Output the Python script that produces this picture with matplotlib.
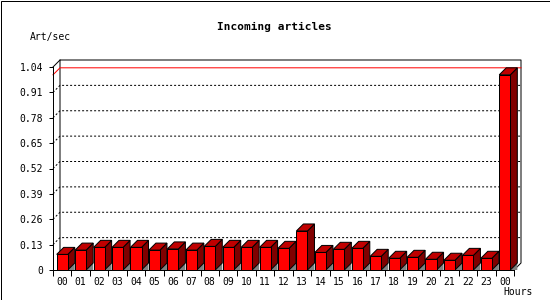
import matplotlib
matplotlib.use("Agg")
import matplotlib.pyplot as plt
from matplotlib.patches import Polygon, Rectangle

hours = ["00", "01", "02", "03", "04", "05", "06", "07", "08", "09", "10", "11",
         "12", "13", "14", "15", "16", "17", "18", "19", "20", "21", "22", "23", "00"]
rate = [0.080, 0.102, 0.116, 0.116, 0.116, 0.102, 0.108, 0.102, 0.121, 0.116,
        0.116, 0.116, 0.111, 0.200, 0.090, 0.106, 0.111, 0.070, 0.060, 0.065,
        0.055, 0.050, 0.075, 0.060, 1.00]
yticks = [0, 0.13, 0.26, 0.39, 0.52, 0.65, 0.78, 0.91, 1.04]
ylabels = ["0", "0.13", "0.26", "0.39", "0.52", "0.65", "0.78", "0.91", "1.04"]

W, H = 550, 300
px = 0.72  # one pixel in points at 100 dpi
mono = "DejaVu Sans Mono"

fig = plt.figure(figsize=(W / 100, H / 100), dpi=100)
ax = fig.add_axes([53 / W, 30 / H, 461 / W, 203 / H])
n = len(rate)
ax.set_xlim(0, n)
ax.set_ylim(0, yticks[-1])
ax.patch.set_visible(False)

# depth of the fake 3d, 7 pixels each way, in data units
bb = ax.get_window_extent()
dx = 7 * n / bb.width
dy = 7 * yticks[-1] / bb.height
top = yticks[-1]

# back wall and floor edge
ax.plot([dx, dx, n + dx, n + dx, n], [dy, top + dy, top + dy, dy, 0],
        color="black", lw=px, clip_on=False, zorder=1)
ax.plot([0, dx], [top, top + dy], color="black", lw=px, clip_on=False, zorder=1)

# dotted grid on the back wall
for t in yticks[1:-1]:
    ax.plot([0, dx, n + dx], [t, t + dy, t + dy], color="black", lw=px,
            linestyle=(0, (2, 2)), clip_on=False, zorder=1.5)

# max line
vmax = max(rate)
ax.plot([0, dx, n + dx], [vmax, vmax + dy, vmax + dy], color="red", lw=px,
        clip_on=False, zorder=1.6)

# bars
bw = 0.6
xs = [i + 0.5 for i in range(n)]
for x, v in zip(xs, rate):
    xl, xr = x - bw / 2, x + bw / 2
    ax.add_patch(Polygon([(xr, 0), (xr + dx, dy), (xr + dx, 0)], closed=True,
                         facecolor="#808080", edgecolor="none", clip_on=False, zorder=2))
    ax.add_patch(Polygon([(xr, 0), (xr + dx, dy), (xr + dx, v + dy), (xr, v)], closed=True,
                         facecolor="#800000", edgecolor="black", lw=px, clip_on=False, zorder=3))
    ax.add_patch(Polygon([(xl, v), (xl + dx, v + dy), (xr + dx, v + dy), (xr, v)], closed=True,
                         facecolor="#C00000", edgecolor="black", lw=px, clip_on=False, zorder=3))
ax.bar(xs, rate, width=bw, color="#FF0000", edgecolor="black", lw=px, zorder=3, clip_on=False)

# axes
for s in ["top", "right"]:
    ax.spines[s].set_visible(False)
for s in ["left", "bottom"]:
    ax.spines[s].set_linewidth(px)
    ax.spines[s].set_zorder(2.5)

ax.set_yticks(yticks)
ax.set_yticklabels(ylabels, fontfamily=mono, fontsize=7)
ax.tick_params(axis="y", length=3, width=px, pad=4)
ax.set_xticks(xs)
ax.set_xticklabels(hours, fontfamily=mono, fontsize=7)
ax.set_xticks(range(n + 1), minor=True)
ax.tick_params(axis="x", which="major", length=0, pad=5)
ax.tick_params(axis="x", which="minor", length=4, width=px)

fig.text(274 / W, 1 - 27 / H, "Incoming articles", fontfamily=mono, fontsize=8,
         fontweight="bold", ha="center", va="center")
fig.text(30 / W, 1 - 37 / H, "Art/sec", fontfamily=mono, fontsize=7, ha="left", va="center")
fig.text(503 / W, 1 - 292 / H, "Hours", fontfamily=mono, fontsize=7, ha="left", va="center")

fig.add_artist(Rectangle((0.5 / W, 0.5 / H), 1 - 1 / W, 1 - 1 / H, transform=fig.transFigure,
                         fill=False, edgecolor="black", lw=px))

fig.savefig("out.png", dpi=100, facecolor="white")
